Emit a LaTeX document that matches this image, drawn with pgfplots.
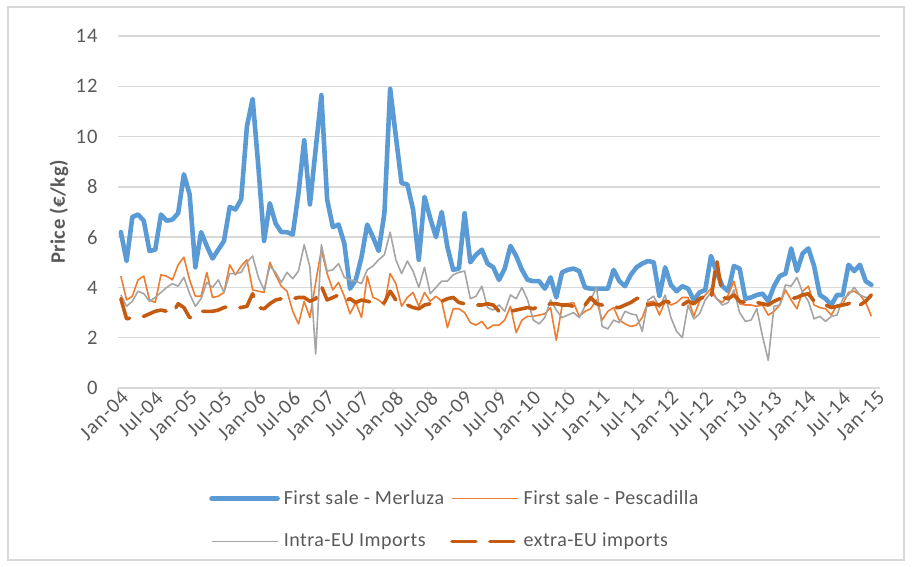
\documentclass[border=0pt]{standalone}
\usepackage{fontspec}
\setmainfont{Carlito}[LetterSpace=2.4]
\newfontfamily\tickfont{Carlito}[LetterSpace=4.5]
\usepackage{pgfplots}
\usepackage{pgfplotstable}
\pgfplotsset{compat=1.18}
\definecolor{cM}{HTML}{5B9BD5}
\definecolor{cP}{HTML}{ED7D31}
\definecolor{cI}{HTML}{A5A5A5}
\definecolor{cE}{HTML}{C55A11}
\definecolor{gridc}{HTML}{D9D9D9}
\definecolor{txt}{HTML}{595959}

\pgfplotstableread{
m M P I E
0 6.2 4.45 3.7 3.55
1 5.05 3.5 3.25 2.75
2 6.8 3.65 3.45 2.8
3 6.9 4.3 3.85 2.8
4 6.65 4.45 3.75 2.85
5 5.45 3.5 3.45 2.95
6 5.5 3.4 3.6 3.05
7 6.9 4.5 3.8 3.1
8 6.65 4.45 4.0 3.05
9 6.7 4.3 4.15 2.95
10 6.95 4.9 4.05 3.35
11 8.5 5.2 4.4 3.2
12 7.7 4.3 3.75 2.8
13 4.8 3.65 3.25 2.85
14 6.2 3.65 3.55 3.05
15 5.65 4.6 4.2 3.05
16 5.15 3.6 4.0 3.05
17 5.5 3.65 4.3 3.1
18 5.85 3.8 3.8 3.2
19 7.2 4.9 4.55 3.25
20 7.1 4.5 4.55 3.2
21 7.5 4.85 4.6 3.2
22 10.4 5.1 5.0 3.25
23 11.5 3.9 5.25 3.75
24 8.8 3.85 4.4 3.2
25 5.85 3.8 3.9 3.15
26 7.35 5.0 4.85 3.35
27 6.55 4.5 4.6 3.5
28 6.2 4.05 4.2 3.55
29 6.2 3.85 4.6 3.55
30 6.1 3.05 4.35 3.55
31 7.75 2.55 4.65 3.6
32 9.85 3.45 5.7 3.6
33 7.3 2.8 4.8 3.45
34 9.5 4.2 1.35 3.55
35 11.65 5.5 5.7 4.05
36 7.5 4.55 4.65 3.5
37 6.4 3.9 4.7 3.6
38 6.5 4.2 4.95 3.7
39 5.75 3.65 4.4 3.45
40 3.95 2.95 4.3 3.55
41 4.3 3.4 4.25 3.4
42 5.2 2.8 4.15 3.5
43 6.5 4.45 4.7 3.45
44 6.0 3.6 4.85 3.4
45 5.45 3.5 5.1 3.35
46 6.95 3.3 5.3 3.4
47 11.9 4.55 6.2 3.85
48 10.0 4.15 5.1 3.5
49 8.15 3.25 4.55 3.3
50 8.1 3.6 5.05 3.3
51 7.1 3.8 4.65 3.2
52 5.1 3.25 4.0 3.15
53 7.6 3.8 4.8 3.3
54 6.75 3.45 3.75 3.35
55 6.0 3.65 4.0 3.3
56 7.0 3.45 4.25 3.45
57 5.6 2.4 4.25 3.55
58 4.7 3.15 4.5 3.6
59 4.75 3.15 4.6 3.4
60 6.95 3.0 4.65 3.35
61 5.0 2.6 3.55 3.35
62 5.3 2.5 3.65 3.3
63 5.5 2.65 4.05 3.3
64 4.95 2.35 3.2 3.35
65 4.8 2.5 3.1 3.3
66 4.3 2.5 3.3 3.05
67 4.75 2.7 3.05 3.0
68 5.65 3.25 3.7 3.05
69 5.25 2.2 3.55 3.1
70 4.7 2.7 4.0 3.15
71 4.3 2.85 3.5 3.2
72 4.25 2.85 2.7 3.15
73 4.25 2.9 2.55 3.25
74 3.95 2.95 2.8 3.3
75 4.4 3.2 3.5 3.35
76 3.6 1.9 3.1 3.35
77 4.6 3.25 2.8 3.3
78 4.7 3.35 2.9 3.3
79 4.75 3.4 3.0 3.25
80 4.65 2.85 2.8 3.4
81 4.0 3.05 3.25 3.3
82 3.95 3.15 3.5 3.6
83 3.95 3.5 4.0 3.35
84 3.95 2.7 2.45 3.3
85 3.95 3.05 2.35 3.25
86 4.7 3.2 2.7 3.2
87 4.25 2.7 2.6 3.2
88 4.05 2.55 3.05 3.3
89 4.5 2.45 2.95 3.4
90 4.8 2.5 2.9 3.55
91 4.95 2.8 2.25 3.65
92 5.05 3.4 3.5 3.3
93 5.0 3.45 3.65 3.35
94 3.65 2.9 3.2 3.3
95 4.8 3.45 3.7 3.45
96 4.1 3.3 2.8 3.4
97 3.85 3.4 2.25 3.35
98 4.05 3.6 2.0 3.3
99 3.95 3.6 3.3 3.45
100 3.5 2.85 2.75 3.35
101 3.8 3.45 2.95 3.55
102 3.9 3.7 3.5 3.65
103 5.25 3.95 3.8 3.5
104 4.6 3.55 3.55 5.1
105 4.05 3.4 3.3 3.6
106 3.85 3.7 3.4 3.55
107 4.85 4.25 3.9 3.7
108 4.75 3.35 3.0 3.45
109 3.55 3.3 2.65 3.4
110 3.6 3.3 2.7 3.35
111 3.7 3.25 3.15 3.4
112 3.75 3.3 2.05 3.35
113 3.45 2.9 1.1 3.3
114 4.05 3.05 3.25 3.45
115 4.45 3.3 3.3 3.55
116 4.55 3.9 4.1 3.6
117 5.55 3.5 4.05 3.55
118 4.65 3.15 4.4 3.6
119 5.35 3.85 3.8 3.7
120 5.55 4.05 3.45 3.75
121 4.85 3.3 2.75 3.45
122 3.7 3.2 2.85 3.4
123 3.55 3.15 2.65 3.3
124 3.3 2.9 2.85 3.2
125 3.7 3.3 2.9 3.25
126 3.7 3.35 3.55 3.3
127 4.9 3.8 3.7 3.35
128 4.65 3.85 4.0 3.5
129 4.9 3.7 3.7 3.3
130 4.25 3.4 3.6 3.45
131 4.1 2.85 3.6 3.7
}\data

\begin{document}
\begin{tikzpicture}
\useasboundingbox (-59pt,-89.5pt) rectangle (397pt,194pt);
\draw[gridc, line width=0.6pt] (-55pt,-86pt) rectangle (393pt,190.5pt);
\begin{axis}[
  at={(0,0)}, anchor=south west,
  scale only axis, width=381pt, height=176pt,
  xmin=0, xmax=133, ymin=0, ymax=14,
  xtick={0,6,...,132},
  xticklabels={Jan-04,Jul-04,Jan-05,Jul-05,Jan-06,Jul-06,Jan-07,Jul-07,Jan-08,Jul-08,Jan-09,Jul-09,Jan-10,Jul-10,Jan-11,Jul-11,Jan-12,Jul-12,Jan-13,Jul-13,Jan-14,Jul-14,Jan-15},
  ytick={0,2,...,14},
  axis x line*=bottom, axis y line*=left,
  x axis line style={draw=gridc, line width=0.7pt, -},
  y axis line style={draw=none},
  ymajorgrids, grid style={draw=gridc, line width=0.7pt},
  tick align=outside, major tick length=2.5pt,
  xtick style={draw=gridc, line width=0.7pt},
  ytick style={draw=none},
  tick label style={font=\tickfont\fontsize{10.3}{12}\selectfont, text=txt},
  /pgf/number format/assume math mode=true,
  xticklabel style={rotate=45, anchor=east, xshift=3pt, yshift=-3pt, inner sep=1pt},
  yticklabel style={xshift=-4.2pt},
  ylabel={\bfseries Price (€/kg)},
  ylabel style={at={(axis description cs:-0.0774,0.5)}, anchor=center, font=\fontsize{10.3}{12}\selectfont, text=txt},
  legend columns=2,
  legend cell align=left,
  legend style={at={(0.4435,-0.375)}, anchor=center, draw=none, fill=none,
    font=\fontsize{10}{12}\selectfont, text=txt, row sep=9pt,
    /tikz/every even column/.append style={column sep=1pt}},
  legend image code/.code={\draw[#1] (0pt,0pt) -- (33pt,0pt);},
  line join=round,
]
\addplot[cM, line width=2.3pt, line cap=round] table[x expr=\thisrow{m}+0.5, y=M]{\data};
\addlegendentry{First sale - Merluza}
\addplot[cP, line width=0.8pt] table[x expr=\thisrow{m}+0.5, y=P]{\data};
\addlegendentry{First sale - Pescadilla}
\addplot[cI, line width=0.8pt] table[x expr=\thisrow{m}+0.5, y=I]{\data};
\addlegendentry{Intra-EU Imports}
\addplot[cE, line width=1.8pt, line cap=round, dash pattern=on 12pt off 7pt] table[x expr=\thisrow{m}+0.5, y=E]{\data};
\addlegendentry{extra-EU imports}
\end{axis}
\end{tikzpicture}
\end{document}
